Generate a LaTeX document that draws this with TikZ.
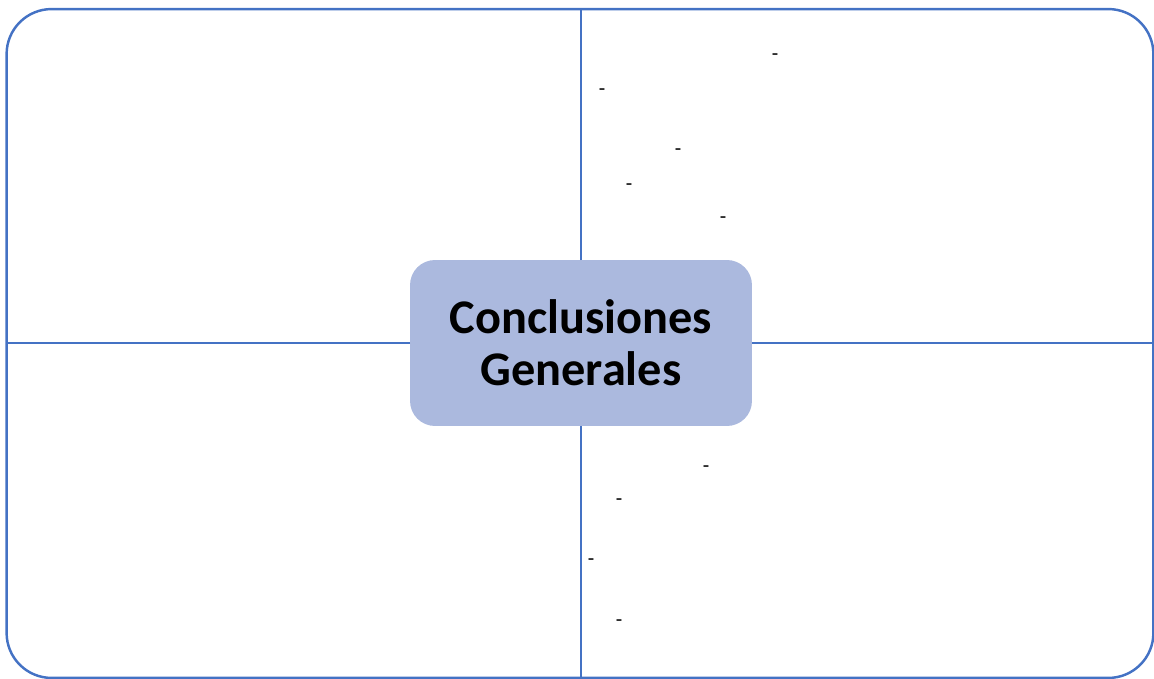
\documentclass[tikz,border=0pt]{standalone}
\usepackage{fontspec}
\setmainfont{Carlito}
\usepackage{tikz}
\usetikzlibrary{positioning}

\definecolor{frameblue}{HTML}{4472C4}
\definecolor{boxblue}{HTML}{ABB9DE}

\tikzset{
  divider/.style={frameblue, line width=1.2pt},
  centerbox/.style={fill=boxblue, rounded corners=0.5cm, minimum width=6.84cm,
    minimum height=3.32cm, align=center, inner sep=0pt, outer sep=0pt,
    font=\fontsize{27.5}{29.5}\selectfont\bfseries},
  dashmark/.style={font=\fontsize{12}{14}\selectfont, inner sep=0pt, yshift=-0.09cm}
}

\begin{document}
\begin{tikzpicture}[x=0.02cm, y=-0.02cm]
    \useasboundingbox (0,0) rectangle (1154,679);

    % Outer frame
    \node[draw=frameblue, line width=1.4pt, rounded corners=0.9cm, minimum width=22.94cm,
      minimum height=13.38cm, inner sep=0pt, outer sep=0pt] (frame) at (580,343.5) {};

    % Central box
    \node[centerbox] (cg) at (581,343) {Conclusiones\\Generales};

    % Dividers from the box out to the frame
    \draw[divider] (cg.north) -- (cg.north |- frame.north);
    \draw[divider] (cg.south) -- (cg.south |- frame.south);
    \draw[divider] (cg.west) -- (cg.west -| frame.west);
    \draw[divider] (cg.east) -- (cg.east -| frame.east);

    % Dashes, upper right
    \foreach \x/\y [count=\i] in {775/53, 602/88, 678/148, 629/183, 723/216}
        \node[dashmark] (up\i) at (\x,\y) {-};

    % Dashes, lower right
    \foreach \x/\y [count=\i] in {706/465, 619/498, 591/558, 619/619}
        \node[dashmark] (low\i) at (\x,\y) {-};
\end{tikzpicture}
\end{document}
